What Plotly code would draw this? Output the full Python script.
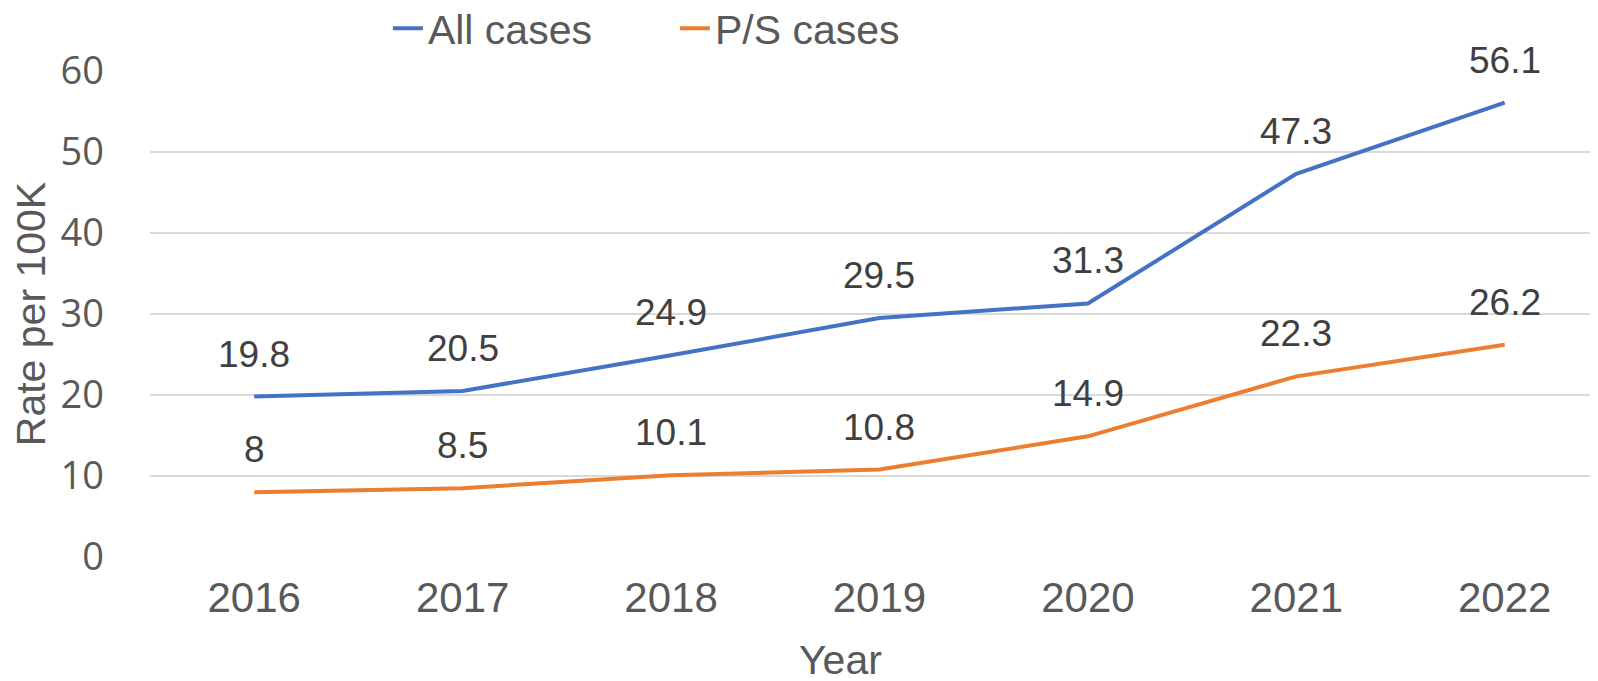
import plotly.graph_objects as go

years = ["2016", "2017", "2018", "2019", "2020", "2021", "2022"]
all_cases = [19.8, 20.5, 24.9, 29.5, 31.3, 47.3, 56.1]
ps_cases = [8, 8.5, 10.1, 10.8, 14.9, 22.3, 26.2]
y_ticks = [0, 10, 20, 30, 40, 50, 60]

BLUE = "#4472C4"
ORANGE = "#ED7D31"
FONT = "Liberation Sans, Arial, sans-serif"
GREY = "#595959"

fig = go.Figure()
fig.add_trace(go.Scatter(x=years, y=all_cases, mode="lines", name="All cases",
                         line=dict(color=BLUE, width=4)))
fig.add_trace(go.Scatter(x=years, y=ps_cases, mode="lines", name="P/S cases",
                         line=dict(color=ORANGE, width=4)))

for series in (all_cases, ps_cases):
    for i, v in enumerate(series):
        fig.add_annotation(x=i, y=v, xref="x", yref="y", text=f"{v:g}", showarrow=False,
                           yanchor="bottom", yshift=20,
                           font=dict(family=FONT, size=37, color="#404040"))

fig.add_annotation(x=0.474, y=0, xref="paper", yref="paper", yanchor="top", yshift=-78,
                   text="Year", showarrow=False,
                   font=dict(family=FONT, size=41, color=GREY))

fig.update_layout(
    width=1598, height=681,
    paper_bgcolor="white", plot_bgcolor="white",
    margin=dict(l=142, r=0, t=63, b=132, autoexpand=False),
    font=dict(family=FONT, size=42, color=GREY),
    showlegend=True,
    legend=dict(orientation="h", x=0.1634, y=1.087, xanchor="left", yanchor="middle",
                font=dict(size=41, color=GREY), bgcolor="rgba(0,0,0,0)",
                entrywidth=242, entrywidthmode="pixels"),
    xaxis=dict(type="category", range=[-0.5, 6.486], showgrid=False, zeroline=False,
               showline=False, ticks="", tickfont=dict(size=42, color=GREY),
               ticklabelstandoff=12),
    yaxis=dict(range=[0, 60], tickvals=y_ticks, showgrid=True, gridcolor="#D9D9D9",
               gridwidth=1.5, zeroline=False, showline=False, ticks="",
               tickfont=dict(family="Open Sans, sans-serif", size=38, color=GREY),
               ticklabelstandoff=45,
               title=dict(text="Rate per 100K", font=dict(size=41, color=GREY), standoff=12)),
)

fig.write_html("out.html")
